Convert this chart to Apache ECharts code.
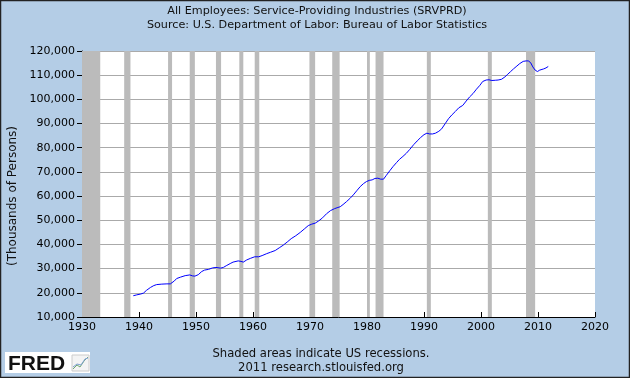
<!DOCTYPE html>
<html>
<head>
<meta charset="utf-8">
<script src="https://cdn.jsdelivr.net/npm/echarts@6/dist/echarts.min.js"></script>
<style>html,body{margin:0;padding:0;background:#B4CDE6;}#c{width:630px;height:378px;}</style>
</head>
<body>
<div id="c"></div>
<script>
// Decimal years and values (thousands of persons)
const years = [1939.0,1939.6,1940.3,1940.8,1941.3,1942.0,1942.6,1943.1,1944.0,1944.9,1945.5,1945.8,1946.2,1946.6,1947.3,1948.1,1948.9,1949.4,1949.8,1950.4,1951.0,1951.5,1952.2,1952.9,1953.5,1954.3,1954.8,1955.3,1956.0,1956.5,1957.4,1957.9,1958.3,1958.9,1959.6,1960.3,1961.0,1961.6,1962.4,1963.1,1963.9,1964.6,1965.3,1966.0,1966.7,1967.5,1968.3,1969.0,1969.7,1970.3,1970.9,1971.5,1972.2,1972.9,1973.6,1974.3,1974.9,1975.3,1975.8,1976.4,1977.0,1977.6,1978.2,1978.8,1979.4,1979.9,1980.4,1980.9,1981.4,1981.9,1982.4,1982.9,1983.4,1984.0,1984.6,1985.2,1985.7,1986.3,1986.9,1987.5,1988.2,1988.8,1989.4,1990.0,1990.5,1991.0,1991.5,1992.0,1992.6,1993.1,1993.7,1994.3,1994.9,1995.5,1996.1,1996.8,1997.4,1998.0,1998.6,1999.2,1999.8,2000.3,2000.9,2001.4,2001.9,2002.5,2003.0,2003.6,2004.2,2004.7,2005.2,2005.7,2006.3,2006.8,2007.4,2007.9,2008.3,2008.7,2009.1,2009.5,2009.9,2010.3,2010.6,2011.0,2011.4,2011.8];
const values = [18800,19150,19500,19900,21000,22200,23000,23400,23600,23700,23700,23500,24900,25900,26500,27100,27400,27000,26900,27500,28800,29400,29700,30300,30500,30200,30500,31200,32100,32700,33200,33000,32700,33600,34300,34900,34900,35400,36200,36800,37500,38600,39700,41000,42400,43600,45000,46400,47800,48400,48800,49700,51000,52700,54000,54800,55300,55600,56500,57700,59000,60500,62200,63900,65200,66000,66500,66700,67300,67400,67000,67000,68600,70500,72300,73900,75200,76400,77700,79300,81300,82800,84200,85400,86000,85700,85700,86000,86800,87800,89900,92000,93600,95000,96500,97500,99300,101000,102400,104200,105800,107400,108000,108100,107800,107900,108000,108300,109300,110400,111500,112600,113800,114800,115700,115900,115900,115200,113400,112100,111500,112100,112200,112600,113000,113600];

// US recessions (start, end) in decimal years
const recessionStarts = [1930.0,1937.4,1945.1,1948.9,1953.5,1957.6,1960.3,1969.9,1973.9,1980.0,1981.5,1990.5,2001.2,2007.9];
const recessionEnds   = [1933.2,1938.5,1945.8,1949.8,1954.4,1958.3,1961.1,1970.9,1975.2,1980.5,1982.9,1991.2,2001.9,2009.5];

const xTicks = [1930,2020,10];      // min, max, interval
const yTicks = [10000,120000,10000];

const titleLine1 = 'All Employees: Service-Providing Industries (SRVPRD)';
const titleLine2 = 'Source: U.S. Department of Labor: Bureau of Labor Statistics';
const yTitle = '(Thousands of Persons)';
const footer1 = 'Shaded areas indicate US recessions.';
const footer2 = '2011 research.stlouisfed.org';

const font = 'DejaVu Sans';
const chart = echarts.init(document.getElementById('c'), null, {renderer:'canvas'});

const lineData = years.map((y,i)=>[y, values[i]]);
const areas = recessionStarts.map((s,i)=>[{xAxis:s},{xAxis:recessionEnds[i]}]);

chart.setOption({
  backgroundColor:'#B4CDE6',
  animation:false,
  grid:{left:82,right:35,top:51,bottom:61,show:true,backgroundColor:'#FFFFFF',borderWidth:0},
  xAxis:{
    type:'value', min:xTicks[0], max:xTicks[1], interval:xTicks[2],
    axisLine:{show:true,onZero:false,lineStyle:{color:'#000',width:1}},
    axisTick:{show:true,inside:true,length:5,lineStyle:{color:'#000'}},
    axisLabel:{color:'#000',fontFamily:font,fontSize:11,margin:5,formatter:v=>String(v)},
    splitLine:{show:false}
  },
  yAxis:{
    type:'value', min:yTicks[0], max:yTicks[1], interval:yTicks[2],
    axisLine:{show:true,lineStyle:{color:'#000',width:1}},
    axisTick:{show:true,length:5,lineStyle:{color:'#000'}},
    axisLabel:{color:'#000',fontFamily:font,fontSize:11,margin:7,
      formatter:v=>v.toLocaleString('en-US')},
    splitLine:{show:true,lineStyle:{color:'#AAAAAA',width:1}}
  },
  series:[{
    type:'line', data:lineData, showSymbol:false, clip:true,
    lineStyle:{color:'#0000FF',width:1}, z:5,
    markArea:{silent:true,itemStyle:{color:'#BBBBBB'},data:areas}
  }],
  graphic:[
    {type:'text',x:317,y:6,style:{text:titleLine1,textAlign:'center',fill:'#111',font:'11.2px '+font}},
    {type:'text',x:317,y:20,style:{text:titleLine2,textAlign:'center',fill:'#111',font:'11.2px '+font}},
    {type:'text',x:13,y:196,rotation:Math.PI/2,style:{text:yTitle,textAlign:'center',textVerticalAlign:'middle',fill:'#111',font:'12px '+font}},
    {type:'text',x:321,y:348,style:{text:footer1,textAlign:'center',fill:'#111',font:'11.6px '+font}},
    {type:'text',x:321,y:362,style:{text:footer2,textAlign:'center',fill:'#111',font:'11.6px '+font}},
    {type:'rect',shape:{x:5,y:352,width:85,height:21},style:{fill:'#FFFFFF'}},
    {type:'text',x:8,y:354,style:{text:'FRED',fill:'#111',font:'bold 21px "Liberation Sans"'}},
    {type:'rect',shape:{x:72,y:355,width:17,height:16},style:{fill:'#F4F4F4',stroke:'#CCCCCC',lineWidth:1}},
    {type:'polyline',shape:{points:[[73,369],[77,365],[80,367],[84,361],[88,357]]},style:{stroke:'#6FA86F',lineWidth:1,fill:null}},
    {type:'polyline',shape:{points:[[73,367],[77,364],[81,365],[85,359],[88,358]]},style:{stroke:'#7D9FD0',lineWidth:1,fill:null}},
    {type:'rect',shape:{x:0.5,y:0.5,width:629,height:377},style:{fill:null,stroke:'#222',lineWidth:1.5}}
  ]
});
</script>
</body>
</html>
